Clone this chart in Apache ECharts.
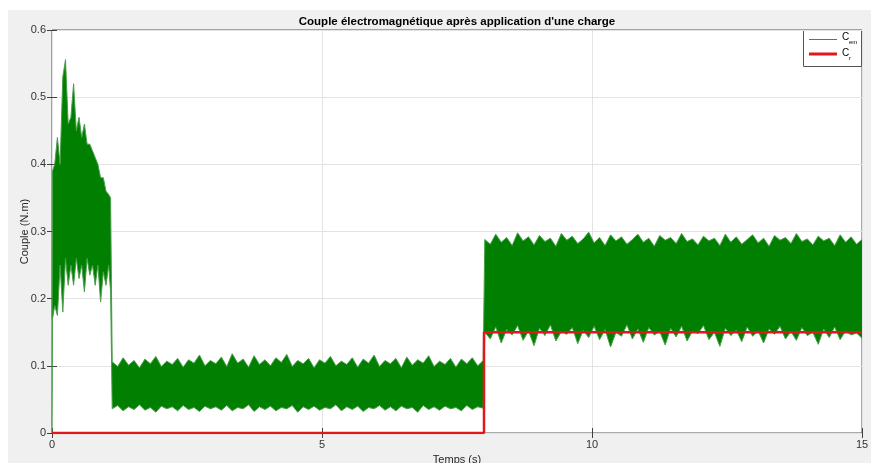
<!DOCTYPE html>
<html>
<head>
<meta charset="utf-8">
<title>Couple électromagnétique</title>
<script src="https://cdn.jsdelivr.net/npm/echarts/dist/echarts.min.js"></script>
<style>
  html, body { margin: 0; padding: 0; background: #fff; }
  #chart { width: 871px; height: 463px; }
</style>
</head>
<body>
<div id="chart"></div>
<script>
// start-up transient (0 - 1.1 s): time and upper / lower envelope of C_em
var startTime = [0, 0.01, 0.05, 0.10, 0.15, 0.20, 0.25, 0.30, 0.35, 0.40, 0.45, 0.50,
  0.55, 0.60, 0.65, 0.70, 0.75, 0.80, 0.85, 0.90, 0.95, 1.00, 1.05, 1.085]
var startHigh = [0.17, 0.39, 0.40, 0.44, 0.40, 0.53, 0.556, 0.46, 0.47, 0.52, 0.45, 0.47,
  0.44, 0.46, 0.43, 0.43, 0.42, 0.41, 0.40, 0.38, 0.38, 0.36, 0.355, 0.35]
var startLow = [0, 0.17, 0.19, 0.175, 0.25, 0.18, 0.26, 0.22, 0.25, 0.22, 0.26, 0.23,
  0.25, 0.21, 0.26, 0.235, 0.25, 0.22, 0.25, 0.195, 0.24, 0.22, 0.25, 0.21]

// no-load part (1.1 - 8 s), about one sample every 0.1 s
var noLoadHigh = [
  0.106, 0.099, 0.112, 0.101, 0.108, 0.097, 0.110, 0.103, 0.114, 0.099,
  0.107, 0.102, 0.111, 0.098, 0.109, 0.104, 0.116, 0.100, 0.108, 0.103,
  0.113, 0.099, 0.118, 0.104, 0.110, 0.098, 0.115, 0.102, 0.109, 0.100,
  0.112, 0.105, 0.117, 0.099, 0.108, 0.103, 0.111, 0.097, 0.109, 0.104,
  0.114, 0.100, 0.107, 0.102, 0.112, 0.098, 0.110, 0.104, 0.116, 0.099,
  0.108, 0.103, 0.111, 0.097, 0.113, 0.101, 0.109, 0.104, 0.115, 0.099,
  0.107, 0.102, 0.111, 0.098, 0.110, 0.103, 0.112, 0.100, 0.108]
var noLoadLow = [
  0.036, 0.041, 0.033, 0.039, 0.035, 0.042, 0.034, 0.038, 0.031, 0.040,
  0.036, 0.039, 0.033, 0.041, 0.035, 0.038, 0.032, 0.040, 0.036, 0.039,
  0.034, 0.041, 0.033, 0.038, 0.036, 0.042, 0.032, 0.039, 0.035, 0.040,
  0.033, 0.038, 0.036, 0.041, 0.031, 0.039, 0.035, 0.040, 0.034, 0.038,
  0.036, 0.042, 0.033, 0.039, 0.035, 0.040, 0.032, 0.038, 0.036, 0.041,
  0.034, 0.039, 0.033, 0.040, 0.036, 0.038, 0.031, 0.041, 0.035, 0.039,
  0.034, 0.040, 0.036, 0.038, 0.033, 0.041, 0.035, 0.039, 0.037]

// loaded part (8 - 15 s)
var loadHigh = [
  0.288, 0.281, 0.296, 0.284, 0.291, 0.279, 0.298, 0.286, 0.292, 0.280,
  0.294, 0.285, 0.290, 0.278, 0.297, 0.287, 0.293, 0.282, 0.289, 0.299,
  0.283, 0.291, 0.279, 0.295, 0.286, 0.292, 0.281, 0.288, 0.296, 0.284,
  0.290, 0.278, 0.294, 0.287, 0.291, 0.282, 0.297, 0.285, 0.289, 0.280,
  0.293, 0.286, 0.290, 0.279, 0.296, 0.284, 0.292, 0.281, 0.288, 0.295,
  0.283, 0.290, 0.278, 0.294, 0.287, 0.291, 0.282, 0.297, 0.285, 0.289,
  0.280, 0.293, 0.286, 0.290, 0.279, 0.295, 0.284, 0.292, 0.281, 0.288]
var loadLow = [
  0.150, 0.140, 0.158, 0.134, 0.154, 0.146, 0.160, 0.138, 0.152, 0.130,
  0.156, 0.145, 0.161, 0.137, 0.151, 0.147, 0.157, 0.133, 0.153, 0.142,
  0.159, 0.139, 0.154, 0.128, 0.150, 0.144, 0.161, 0.140, 0.155, 0.135,
  0.157, 0.146, 0.151, 0.131, 0.156, 0.143, 0.159, 0.137, 0.152, 0.148,
  0.160, 0.139, 0.150, 0.129, 0.156, 0.145, 0.153, 0.136, 0.158, 0.144,
  0.152, 0.134, 0.155, 0.147, 0.159, 0.140, 0.151, 0.138, 0.157, 0.145,
  0.150, 0.132, 0.155, 0.142, 0.158, 0.139, 0.152, 0.146, 0.149, 0.141]

// load torque C_r
var crTime = [0, 8, 8, 15]
var crValue = [0, 0, 0.15, 0.15]

var FONT = "'Liberation Sans', Arial, sans-serif"
var GREEN = '#007f00'
var EDGE = '#4a9e4a'
var RED = '#e3161b'

function spread(t0, t1, n) {
  var out = []
  for (var i = 0; i < n; i++) out.push(t0 + (t1 - t0) * i / (n - 1))
  return out
}

var cemTime = startTime.concat(spread(1.115, 7.985, noLoadHigh.length), spread(8.015, 15, loadHigh.length))
var cemHigh = startHigh.concat(noLoadHigh, loadHigh)
var cemLow = startLow.concat(noLoadLow, loadLow)

var bandData = cemTime.map(function (t, i) { return [t, cemLow[i], cemHigh[i]] })
var highData = cemTime.map(function (t, i) { return [t, cemHigh[i]] })
var lowData = cemTime.map(function (t, i) { return [t, cemLow[i]] })
var crData = crTime.map(function (t, i) { return [t, crValue[i]] })

// one filled polygon between upper and lower envelope
function renderBand(params, api) {
  if (params.dataIndex !== 0) return
  var pts = []
  bandData.forEach(function (d) { pts.push(api.coord([d[0], d[2]])) })
  for (var i = bandData.length - 1; i >= 0; i--) pts.push(api.coord([bandData[i][0], bandData[i][1]]))
  return {
    type: 'polygon',
    shape: { points: pts },
    style: { fill: GREEN }
  }
}

var tickStyle = { inside: true, length: 5, lineStyle: { color: '#404040', width: 1 } }
var labelStyle = { color: '#333', fontSize: 11, fontFamily: FONT }
var gridLine = { show: true, lineStyle: { color: '#e3e3e3', width: 1 } }

var chart = echarts.init(document.getElementById('chart'))
chart.setOption({
  backgroundColor: '#f0f0f0',
  animation: false,
  title: {
    text: "Couple électromagnétique après application d'une charge",
    left: 452,
    top: 11,
    textAlign: 'center',
    textStyle: { fontSize: 11.5, fontWeight: 'bold', color: '#000', fontFamily: FONT }
  },
  grid: {
    left: 52, top: 30, width: 810, height: 403,
    outerBoundsMode: 'none',
    show: true, backgroundColor: '#fff', borderColor: '#555', borderWidth: 1
  },
  xAxis: [{
    type: 'value', min: 0, max: 15, interval: 5,
    name: 'Temps (s)', nameLocation: 'middle', nameGap: 21, nameMoveOverlap: false,
    nameTextStyle: { color: '#262626', fontSize: 11, fontFamily: FONT },
    axisLine: { show: false },
    axisTick: tickStyle,
    axisLabel: Object.assign({ margin: 6 }, labelStyle),
    splitLine: gridLine
  }, {
    type: 'value', position: 'top', min: 0, max: 15, interval: 5,
    axisLine: { show: false }, axisTick: tickStyle,
    axisLabel: { show: false }, splitLine: { show: false }
  }],
  yAxis: [{
    type: 'value', min: 0, max: 0.6, interval: 0.1,
    name: 'Couple (N.m)', nameLocation: 'middle', nameGap: 22, nameMoveOverlap: false,
    nameTextStyle: { color: '#262626', fontSize: 11, fontFamily: FONT },
    axisLine: { show: false },
    axisTick: tickStyle,
    axisLabel: Object.assign({ margin: 6 }, labelStyle),
    splitLine: gridLine
  }, {
    type: 'value', position: 'right', min: 0, max: 0.6, interval: 0.1,
    axisLine: { show: false }, axisTick: tickStyle,
    axisLabel: { show: false }, splitLine: { show: false }
  }],
  series: [{
    name: 'C_em',
    type: 'custom',
    renderItem: renderBand,
    data: bandData,
    encode: { x: 0, y: [1, 2] },
    z: 2
  }, {
    name: 'C_em high',
    type: 'line',
    data: highData,
    symbol: 'none',
    z: 3,
    lineStyle: { color: EDGE, width: 1 }
  }, {
    name: 'C_em low',
    type: 'line',
    data: lowData,
    symbol: 'none',
    z: 3,
    lineStyle: { color: EDGE, width: 1 }
  }, {
    name: 'C_r',
    type: 'line',
    data: crData,
    symbol: 'none',
    z: 5,
    lineStyle: { color: RED, width: 2.5 }
  }],
  graphic: [
    { type: 'rect', z: 100, shape: { x: 0, y: 0, width: 871, height: 10 }, style: { fill: '#fff' } },
    { type: 'rect', z: 100, shape: { x: 0, y: 0, width: 8, height: 463 }, style: { fill: '#fff' } },
    {
      type: 'group', z: 100,
      children: [
        { type: 'rect', shape: { x: 803.5, y: 30.5, width: 58, height: 36 }, style: { fill: '#fff', stroke: '#555', lineWidth: 1 } },
        { type: 'rect', shape: { x: 809, y: 39, width: 28, height: 1 }, style: { fill: '#2f962f' } },
        { type: 'text', x: 842, y: 37, style: { text: 'C', fontSize: 10, fontFamily: FONT, fill: '#000', verticalAlign: 'middle' } },
        { type: 'text', x: 849, y: 42, style: { text: 'em', fontSize: 6, fontFamily: FONT, fill: '#000', verticalAlign: 'middle' } },
        { type: 'rect', shape: { x: 809, y: 52.5, width: 28, height: 3 }, style: { fill: RED } },
        { type: 'text', x: 842, y: 53, style: { text: 'C', fontSize: 10, fontFamily: FONT, fill: '#000', verticalAlign: 'middle' } },
        { type: 'text', x: 849, y: 58, style: { text: 'r', fontSize: 6, fontFamily: FONT, fill: '#000', verticalAlign: 'middle' } }
      ]
    }
  ]
})
</script>
</body>
</html>
